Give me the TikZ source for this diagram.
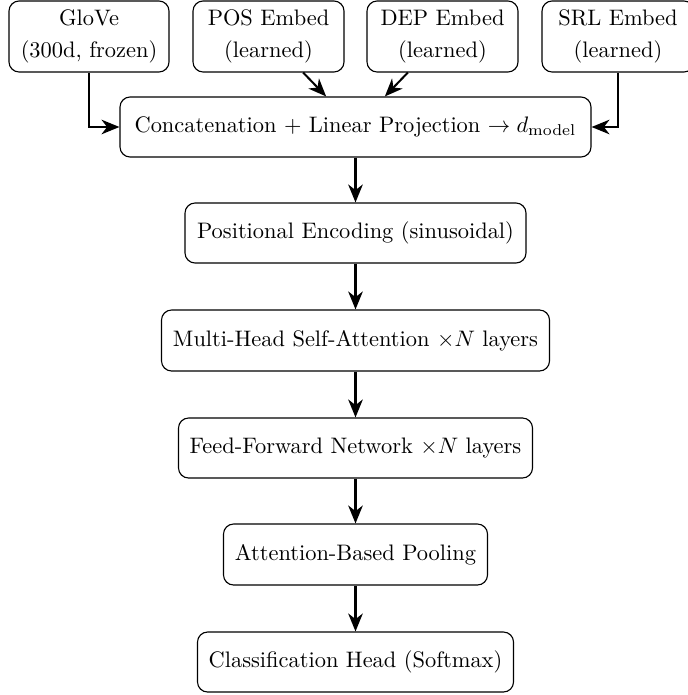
\documentclass[tikz,border=0pt]{standalone}
\usetikzlibrary{arrows.meta}
\begin{document}
\begin{tikzpicture}[x=0.446pt,y=-0.446pt,
  blk/.style={draw,rounded corners=4.5pt,inner sep=0pt,align=center,line width=0.5pt},
  arr/.style={line width=0.9pt,-{Stealth[length=8pt,width=6.5pt,inset=2.5pt]}}]
\useasboundingbox (0,0) rectangle (687,695);
\node[blk,minimum width=160*0.446pt,minimum height=71*0.446pt] (glove) at (89,36.5) {GloVe\\[2.5pt](300d, frozen)};
\node[blk,minimum width=151*0.446pt,minimum height=71*0.446pt] (pos) at (268.5,36.5) {POS Embed\\[2.5pt](learned)};
\node[blk,minimum width=151*0.446pt,minimum height=71*0.446pt] (dep) at (442.5,36.5) {DEP Embed\\[2.5pt](learned)};
\node[blk,minimum width=152*0.446pt,minimum height=71*0.446pt] (srl) at (618,36.5) {SRL Embed\\[2.5pt](learned)};
\node[blk,minimum width=471*0.446pt,minimum height=60*0.446pt] (concat) at (355.5,127) {Concatenation + Linear Projection $\rightarrow d_{\mathrm{model}}$};
\node[blk,minimum width=341*0.446pt,minimum height=60*0.446pt] (pe) at (355.5,233) {Positional Encoding (sinusoidal)};
\node[blk,minimum width=388*0.446pt,minimum height=61*0.446pt] (mha) at (355.5,340.5) {Multi-Head Self-Attention $\times N$ layers};
\node[blk,minimum width=354*0.446pt,minimum height=60*0.446pt] (ffn) at (355.5,448) {Feed-Forward Network $\times N$ layers};
\node[blk,minimum width=264*0.446pt,minimum height=61*0.446pt] (pool) at (355.5,554.5) {Attention-Based Pooling};
\node[blk,minimum width=316*0.446pt,minimum height=60*0.446pt] (cls) at (355.5,662) {Classification Head (Softmax)};
\draw[arr] (glove) |- (concat);
\draw[arr] (srl) |- (concat);
\draw[arr] (pos) -- (concat);
\draw[arr] (dep) -- (concat);
\draw[arr] (concat) -- (pe);
\draw[arr] (pe) -- (mha);
\draw[arr] (mha) -- (ffn);
\draw[arr] (ffn) -- (pool);
\draw[arr] (pool) -- (cls);
\end{tikzpicture}
\end{document}
